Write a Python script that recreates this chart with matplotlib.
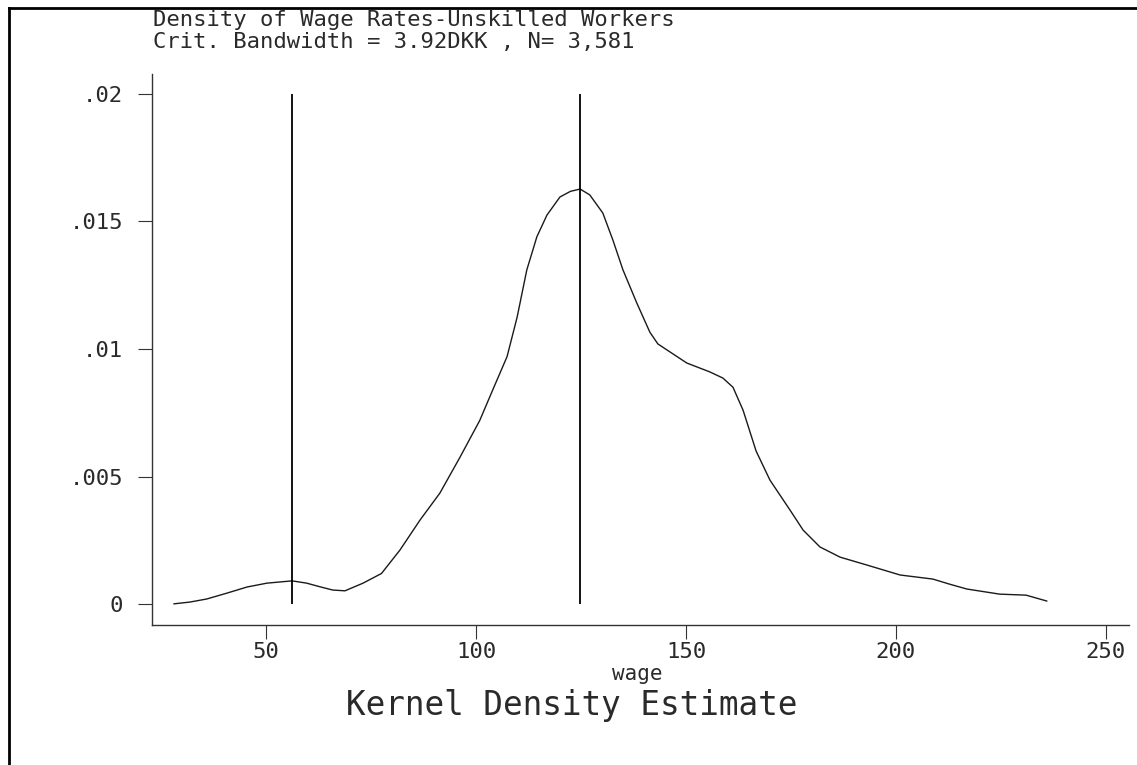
import matplotlib
matplotlib.use("Agg")
import matplotlib.pyplot as plt
from matplotlib.lines import Line2D

# Valores
wage = [28.1, 31.9, 35.9, 40.7, 45.5, 50.2, 56.2, 59.7, 62.8, 65.9, 68.8, 73.1,
        77.5, 81.9, 86.7, 91.4, 96.2, 100.9, 104.0, 107.4, 109.8, 112.1, 114.5,
        116.9, 120.0, 122.5, 124.8, 127.1, 130.2, 132.6, 135.0, 138.3, 141.4,
        143.3, 145.5, 150.2, 155.7, 158.8, 161.2, 163.6, 166.7, 170.0, 174.8,
        177.9, 181.9, 186.7, 193.1, 201.0, 208.8, 212.8, 216.9, 224.7, 231.0,
        235.9]
density = [0.00001, 0.00008, 0.0002, 0.00043, 0.00067, 0.00082, 0.00091, 0.00082,
           0.00068, 0.00055, 0.00052, 0.00082, 0.0012, 0.00212, 0.0033, 0.00435,
           0.00576, 0.0072, 0.0084, 0.0097, 0.01125, 0.0131, 0.0144, 0.01525,
           0.01596, 0.01618, 0.01627, 0.01604, 0.01533, 0.01427, 0.0131, 0.0118,
           0.01066, 0.0102, 0.00996, 0.00945, 0.0091, 0.00886, 0.0085, 0.0076,
           0.0060, 0.00486, 0.00368, 0.0029, 0.00224, 0.00184, 0.00153, 0.00114,
           0.00098, 0.00078, 0.00059, 0.00039, 0.00035, 0.00012]
modos = [56.2, 124.8]

xticks = [50, 100, 150, 200, 250]
yticks = [0, 0.005, 0.01, 0.015, 0.02]
ytick_labels = ["0", ".005", ".01", ".015", ".02"]

titulo1 = "Density of Wage Rates-Unskilled Workers"
titulo2 = "Crit. Bandwidth = 3.92DKK , N= 3,581"

fuente = "DejaVu Sans Mono"
color_txt = "#2a2a2a"

fig = plt.figure(figsize=(11.37, 7.65), dpi=100)
ax = fig.add_axes([152 / 1137, 1 - 625 / 765, (1129 - 152) / 1137, (625 - 74) / 765])

ax.plot(wage, density, color="#1a1a1a", linewidth=1.0)
ax.vlines(modos, 0, 0.02, color="black", linewidth=1.3)

ax.set_xlim(22.85, 255.5)
ax.set_ylim(-0.00082, 0.02078)

ax.set_xticks(xticks)
ax.set_xticklabels([str(t) for t in xticks])
ax.set_yticks(yticks)
ax.set_yticklabels(ytick_labels)

for s in ["top", "right"]:
    ax.spines[s].set_visible(False)
for s in ["left", "bottom"]:
    ax.spines[s].set_color("#333333")
    ax.spines[s].set_linewidth(1.0)

ax.tick_params(axis="both", direction="out", length=10, width=0.8, color="#333333",
               labelsize=16, labelcolor=color_txt)
ax.tick_params(axis="x", pad=2)
ax.tick_params(axis="y", pad=11)
for lab in ax.get_xticklabels() + ax.get_yticklabels():
    lab.set_family(fuente)

# Títulos arriba a la izquierda
fig.text(153 / 1137, 1 - 26 / 765, titulo1, family=fuente, fontsize=16,
         color=color_txt, va="baseline", ha="left")
fig.text(153 / 1137, 1 - 48 / 765, titulo2, family=fuente, fontsize=16,
         color=color_txt, va="baseline", ha="left")

# Etiqueta del eje y leyenda inferior
fig.text(637 / 1137, 1 - 680 / 765, "wage", family=fuente, fontsize=15,
         color=color_txt, va="baseline", ha="center")
fig.text(572 / 1137, 1 - 715 / 765, "Kernel Density Estimate", family=fuente,
         fontsize=23.5, color=color_txt, va="baseline", ha="center")

# Marco superior e izquierdo
fig.add_artist(Line2D([9 / 1137, 1], [1 - 8 / 765, 1 - 8 / 765],
                      transform=fig.transFigure, color="black", linewidth=2))
fig.add_artist(Line2D([9 / 1137, 9 / 1137], [1 - 8 / 765, 0],
                      transform=fig.transFigure, color="black", linewidth=2))

fig.savefig("out.png", dpi=100)
